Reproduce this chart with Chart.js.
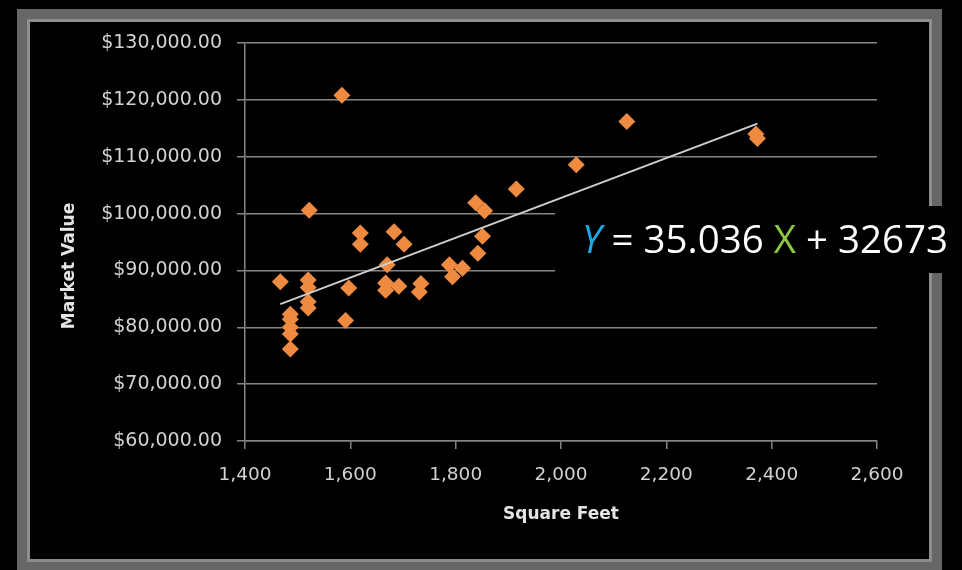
<!DOCTYPE html>
<html>
<head>
<meta charset="utf-8">
<title>Market Value vs Square Feet</title>
<script src="https://cdn.jsdelivr.net/npm/chart.js@4.4.1/dist/chart.umd.min.js"></script>
<style>
  html, body { margin: 0; padding: 0; background: #000; }
  body { width: 962px; height: 570px; position: relative; overflow: hidden; }
  /* grey bevelled frame around the chart */
  .frame {
    position: absolute; left: 17px; top: 9px; width: 925px; height: 563px;
    box-sizing: border-box; border: 10px solid #666;
    box-shadow: inset 0 0 0 3px #8d8d8d;
  }
  .wrap { position: absolute; left: 0; top: 0; width: 962px; height: 570px; }
</style>
</head>
<body>
<div class="frame"></div>
<div class="wrap"><canvas id="chart"></canvas></div>
<script>
  // house size (sq ft) and assessed market value ($)
  var sqFeet = [
    1467, 1486, 1486, 1486, 1486, 1486,
    1522, 1520, 1520, 1520, 1520,
    1584, 1591, 1597, 1619, 1619,
    1667, 1667, 1670, 1683, 1692, 1702,
    1731, 1734, 1788, 1794, 1813,
    1838, 1842, 1851, 1855,
    1915, 2029, 2125, 2370, 2373
  ];
  var marketValue = [
    88000, 82300, 81400, 80000, 78800, 76200,
    100600, 88300, 87000, 84500, 83400,
    120800, 81200, 86900, 96600, 94600,
    87800, 86500, 91000, 96800, 87200, 94600,
    86200, 87700, 91000, 88900, 90400,
    101900, 93000, 96000, 100500,
    104300, 108600, 116200, 114000, 113200
  ];

  // least-squares fit: Y = slope * X + intercept
  var slope = 35.036;
  var intercept = 32673;

  var xTickValues = [1400, 1600, 1800, 2000, 2200, 2400, 2600];
  var yTickValues = [60000, 70000, 80000, 90000, 100000, 110000, 120000, 130000];

  var xTitle = "Square Feet";
  var yTitle = "Market Value";

  var GRID = "#858585";
  var TICK = "#d2d2d2";
  var ORANGE = "#ef8b40";
  var FONT = '"DejaVu Sans", sans-serif';
  var EQ_FONT = '"Open Sans", sans-serif';

  var points = sqFeet.map(function (x, i) { return { x: x, y: marketValue[i] }; });
  var xLo = Math.min.apply(null, sqFeet);
  var xHi = Math.max.apply(null, sqFeet);
  var trend = [
    { x: xLo, y: slope * xLo + intercept },
    { x: xHi, y: slope * xHi + intercept }
  ];

  // axis titles plus the equation call-out laid over the right side
  var overlay = {
    id: "overlay",
    afterDraw: function (chart) {
      var ctx = chart.ctx;
      var area = chart.chartArea;
      ctx.save();
      ctx.fillStyle = "#e4e4e4";
      ctx.font = "bold 17px " + FONT;
      ctx.textAlign = "center";
      ctx.textBaseline = "middle";
      ctx.fillText(xTitle, (area.left + area.right) / 2, 515);
      ctx.translate(70, 266);
      ctx.rotate(-Math.PI / 2);
      ctx.fillText(yTitle, 0, 0);
      ctx.restore();

      ctx.save();
      ctx.fillStyle = "#000";
      ctx.fillRect(555, 206, 407, 67);
      var parts = [
        { t: "Y", c: "#1ba6e6", it: true },
        { t: " = " + slope.toFixed(3) + " ", c: "#ffffff" },
        { t: "X", c: "#8dc63f" },
        { t: " + " + intercept, c: "#ffffff" }
      ];
      var x = 582;
      ctx.textBaseline = "alphabetic";
      ctx.textAlign = "left";
      parts.forEach(function (p) {
        ctx.font = (p.it ? "italic " : "") + "38.5px " + EQ_FONT;
        ctx.fillStyle = p.c;
        ctx.fillText(p.t, x, 253);
        x += ctx.measureText(p.t).width;
      });
      ctx.restore();
    }
  };

  new Chart(document.getElementById("chart"), {
    type: "scatter",
    data: {
      datasets: [
        {
          type: "line", data: trend, borderColor: "#cfcfcf", borderWidth: 2,
          pointRadius: 0, showLine: true, fill: false, order: 0
        },
        {
          data: points, pointStyle: "rectRot", pointRadius: 8.5, pointHoverRadius: 8.5,
          backgroundColor: ORANGE, borderWidth: 0, order: 1
        }
      ]
    },
    options: {
      responsive: true, maintainAspectRatio: false, animation: false,
      devicePixelRatio: 1,
      layout: { padding: { top: 43, right: 85, bottom: 0, left: 0 } },
      plugins: { legend: { display: false }, tooltip: { enabled: false } },
      scales: {
        x: {
          type: "linear", min: 1400, max: 2600,
          afterBuildTicks: function (s) { s.ticks = xTickValues.map(function (v) { return { value: v }; }); },
          afterFit: function (s) { s.height = 129; },
          grid: { drawOnChartArea: false, color: GRID, lineWidth: 1.5, tickLength: 8 },
          border: { color: GRID, width: 1.5 },
          ticks: {
            color: TICK, font: { family: FONT, size: 18.5 }, padding: 15,
            maxRotation: 0, autoSkip: false,
            callback: function (v) { return v.toLocaleString("en-US"); }
          }
        },
        y: {
          type: "linear", min: 60000, max: 130000,
          afterBuildTicks: function (s) { s.ticks = yTickValues.map(function (v) { return { value: v }; }); },
          afterFit: function (s) { s.width = 245; },
          grid: { color: GRID, lineWidth: 1.5, tickLength: 8 },
          border: { color: GRID, width: 1.5 },
          ticks: {
            color: TICK, font: { family: FONT, size: 19 }, padding: 15, autoSkip: false,
            callback: function (v) {
              return "$" + v.toLocaleString("en-US", { minimumFractionDigits: 2, maximumFractionDigits: 2 });
            }
          }
        }
      }
    },
    plugins: [overlay]
  });
</script>
</body>
</html>
